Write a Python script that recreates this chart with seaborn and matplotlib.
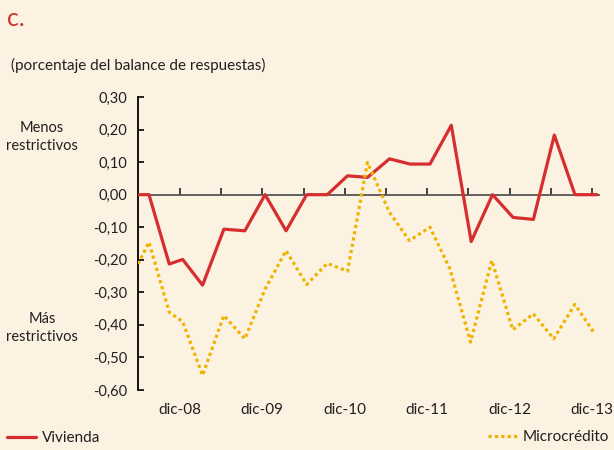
import matplotlib
matplotlib.use("Agg")
import matplotlib.pyplot as plt
import seaborn as sns

# ---- data (months relative to dic-08) ----
meses_vivienda = [-6.1, -4.5, -1.55, 0.4, 3.3, 6.4, 9.45, 12.4, 15.45, 18.45, 21.45, 24.4,
                  27.3, 30.5, 33.5, 36.4, 39.5, 42.4, 45.5, 48.5, 51.45, 54.5, 57.5, 60.7]
vivienda = [0.0, 0.0, -0.213, -0.199, -0.278, -0.106, -0.111, 0.0, -0.111, 0.0, 0.0, 0.058,
            0.053, 0.11, 0.094, 0.094, 0.213, -0.144, 0.0, -0.07, -0.076, 0.183, 0.0, 0.0]

meses_micro = [-6.1, -4.5, -1.55, 0.4, 3.3, 6.4, 9.45, 12.4, 15.45, 18.45, 21.45, 24.4,
               27.3, 30.5, 33.4, 36.4, 39.3, 42.3, 45.4, 48.45, 51.45, 54.4, 57.5, 60.2]
microcredito = [-0.213, -0.146, -0.361, -0.39, -0.555, -0.371, -0.443, -0.29, -0.172, -0.276,
                -0.211, -0.235, 0.099, -0.054, -0.141, -0.10, -0.228, -0.453, -0.202, -0.415,
                -0.366, -0.443, -0.337, -0.422]

ticks_etiquetas = [0, 12, 24, 36, 48, 60]
etiquetas_x = ["dic-08", "dic-09", "dic-10", "dic-11", "dic-12", "dic-13"]
ticks_semestre = [0, 6, 12, 18, 24, 30, 36, 42, 48, 54, 60]
ticks_y = [0.30, 0.20, 0.10, 0.00, -0.10, -0.20, -0.30, -0.40, -0.50, -0.60]

BG = "#FCF2E2"
RED = "#D62E2E"
YEL = "#EFB300"
TXT = "#231F20"

sns.set_theme(style="ticks")
plt.rcParams['font.family'] = ['Lato', 'DejaVu Sans']

W, H = 614, 450
fig = plt.figure(figsize=(W / 100, H / 100), dpi=100, facecolor=BG)
ax = fig.add_axes([138 / W, 1 - 390 / H, (599 - 138) / W, (390 - 97) / H])
ax.set_facecolor(BG)

sns.lineplot(x=meses_vivienda, y=vivienda, ax=ax, color=RED, linewidth=2.3,
             label="Vivienda", zorder=3)
sns.lineplot(x=meses_micro, y=microcredito, ax=ax, color=YEL, linewidth=2.3,
             linestyle=(0, (1, 1)), label="Microcrédito", zorder=3)
lines = ax.get_lines()
if ax.get_legend() is not None:
    ax.get_legend().remove()

ax.set_xlim(-6.1, 61.0)
ax.set_ylim(-0.6, 0.3)

# y axis
ax.set_yticks(ticks_y)
ax.set_yticklabels([f"{v:.2f}".replace('.', ',') for v in ticks_y])
ax.tick_params(axis='y', direction='in', length=4, width=1.2, color='black',
               pad=7.5, labelsize=10.5, labelcolor=TXT)
for s in ['top', 'right', 'bottom']:
    ax.spines[s].set_visible(False)
ax.spines['left'].set_color('black')
ax.spines['left'].set_linewidth(1.3)

# x labels at bottom
ax.set_xticks(ticks_etiquetas)
ax.set_xticklabels(etiquetas_x)
ax.tick_params(axis='x', length=0, pad=9, labelsize=11, labelcolor=TXT)
ax.set_xlabel("")
ax.set_ylabel("")

# zero line axis with semester ticks
sec = ax.secondary_xaxis(2 / 3)
sec.set_xticks(ticks_semestre)
sec.tick_params(direction='out', length=5, width=1.3, color='#333333',
                labeltop=False, labelbottom=False)
for s in sec.spines.values():
    s.set_color('#555555')
    s.set_linewidth(1.3)

# texts
fig.text(7 / W, 1 - 19 / H, "c.", color="#C8372D", fontsize=18, ha='left', va='center')
fig.text(11 / W, 1 - 65 / H, "(porcentaje del balance de respuestas)", color=TXT,
         fontsize=11, ha='left', va='center')
fig.text(42 / W, 1 - 137 / H, "Menos\nrestrictivos", color=TXT, fontsize=10.5,
         ha='center', va='center', linespacing=1.3)
fig.text(42 / W, 1 - 328 / H, "Más\nrestrictivos", color=TXT, fontsize=10.5,
         ha='center', va='center', linespacing=1.3)

# legends
fig.legend(handles=[lines[0]], labels=["Vivienda"], loc='center left',
           bbox_to_anchor=(7 / W, 1 - 438 / H), frameon=False, borderpad=0,
           borderaxespad=0, handlelength=1.9, handletextpad=0.4, fontsize=11,
           labelcolor=TXT)
fig.legend(handles=[lines[1]], labels=["Microcrédito"], loc='center right',
           bbox_to_anchor=(609 / W, 1 - 437 / H), frameon=False, borderpad=0,
           borderaxespad=0, handlelength=1.9, handletextpad=0.35, fontsize=11,
           labelcolor=TXT)

fig.savefig("out.png", dpi=100, facecolor=BG)
